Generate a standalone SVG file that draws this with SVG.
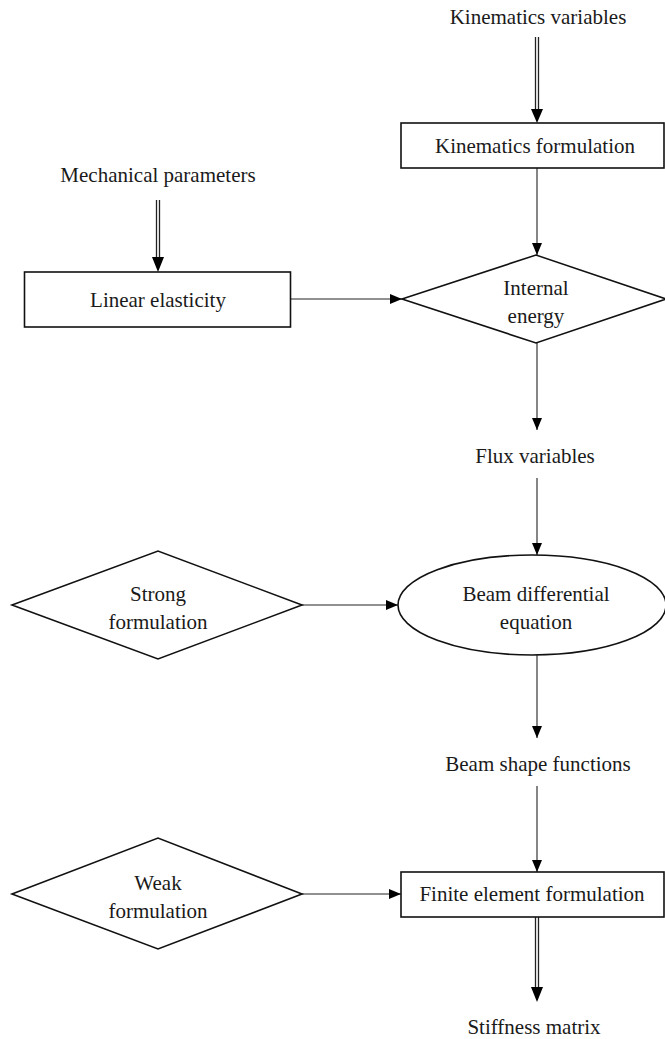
<svg xmlns="http://www.w3.org/2000/svg" width="665" height="1039" viewBox="0 0 665 1039">
<defs>
<marker id="ah" markerWidth="12" markerHeight="10" refX="12" refY="5" orient="auto" markerUnits="userSpaceOnUse">
<path d="M0,0 L12,5 L0,10 Z" fill="#000"/>
</marker>
</defs>
<style>
.t{font-family:"Liberation Serif","Times New Roman",serif;font-size:21px;fill:#1a1a1a;text-anchor:middle}
.s{fill:#fff;stroke:#111;stroke-width:1.6}
.c{stroke:#222;stroke-width:1.1;fill:none}
.d{stroke:#222;stroke-width:1.3;fill:none}
</style>
<rect width="665" height="1039" fill="#fff"/>
<g id="connectors">
<line class="d" x1="535.5" y1="37" x2="535.5" y2="110"/>
<line class="d" x1="538.5" y1="37" x2="538.5" y2="110"/>
<path d="M531,109 L543,109 L537,123 Z" fill="#000"/>
<line class="d" x1="156.5" y1="200" x2="156.5" y2="258"/>
<line class="d" x1="159.5" y1="200" x2="159.5" y2="258"/>
<path d="M152,257 L164,257 L158,272 Z" fill="#000"/>
<line class="c" x1="537" y1="168" x2="537" y2="255" marker-end="url(#ah)"/>
<line class="c" x1="291" y1="299" x2="402" y2="299" marker-end="url(#ah)"/>
<line class="c" x1="537" y1="343" x2="537" y2="430" marker-end="url(#ah)"/>
<line class="c" x1="537" y1="478" x2="537" y2="555" marker-end="url(#ah)"/>
<line class="c" x1="302" y1="605" x2="398" y2="605" marker-end="url(#ah)"/>
<line class="c" x1="537" y1="655" x2="537" y2="738" marker-end="url(#ah)"/>
<line class="c" x1="537" y1="786" x2="537" y2="872" marker-end="url(#ah)"/>
<line class="c" x1="302" y1="894" x2="401" y2="894" marker-end="url(#ah)"/>
<line class="d" x1="535.5" y1="917" x2="535.5" y2="988"/>
<line class="d" x1="538.5" y1="917" x2="538.5" y2="988"/>
<path d="M531,987 L543,987 L537,1002 Z" fill="#000"/>
</g>
<g id="kinematics-variables"><text class="t" x="538" y="24">Kinematics variables</text></g>
<g id="kinematics-formulation"><rect class="s" x="401" y="123" width="263" height="45"/><text class="t" x="535" y="153">Kinematics formulation</text></g>
<g id="mechanical-parameters"><text class="t" x="158" y="182">Mechanical parameters</text></g>
<g id="linear-elasticity"><rect class="s" x="24.5" y="272" width="266" height="55"/><text class="t" x="158" y="307">Linear elasticity</text></g>
<g id="internal-energy"><polygon class="s" points="402,299 536,255 666,299 536,343"/><text class="t" x="536" y="295">Internal</text><text class="t" x="536" y="323">energy</text></g>
<g id="flux-variables"><text class="t" x="535" y="463">Flux variables</text></g>
<g id="strong-formulation"><polygon class="s" points="12,605 158,551 302,605 158,659"/><text class="t" x="158" y="601">Strong</text><text class="t" x="158" y="629">formulation</text></g>
<g id="beam-differential-equation"><ellipse class="s" cx="532" cy="605" rx="134" ry="50"/><text class="t" x="536" y="601">Beam differential</text><text class="t" x="536" y="629">equation</text></g>
<g id="beam-shape-functions"><text class="t" x="538" y="771">Beam shape functions</text></g>
<g id="weak-formulation"><polygon class="s" points="12,894 158,838 302,894 158,949"/><text class="t" x="158" y="890">Weak</text><text class="t" x="158" y="918">formulation</text></g>
<g id="finite-element-formulation"><rect class="s" x="401" y="872" width="263" height="45"/><text class="t" x="532" y="901">Finite element formulation</text></g>
<g id="stiffness-matrix"><text class="t" x="534" y="1034">Stiffness matrix</text></g>
</svg>
